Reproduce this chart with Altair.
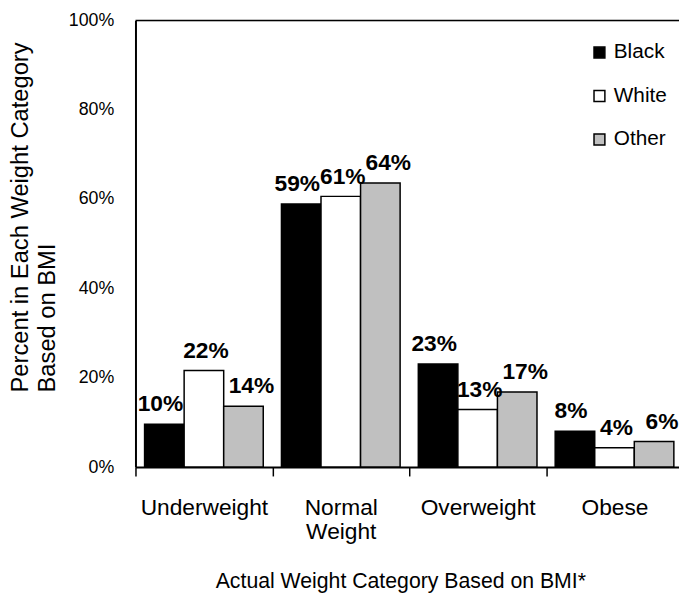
import altair as alt
import pandas as pd

categories = ["Underweight", "Normal Weight", "Overweight", "Obese"]
races = ["Black", "White", "Other"]
black_vals = [9.6, 58.9, 23.1, 8.0]
white_vals = [21.6, 60.6, 12.9, 4.3]
other_vals = [13.6, 63.6, 16.8, 5.7]
black_lbl = ["10%", "59%", "23%", "8%"]
white_lbl = ["22%", "61%", "13%", "4%"]
other_lbl = ["14%", "64%", "17%", "6%"]
colors = ["#000000", "#ffffff", "#c0c0c0"]
y_ticks = [0, 20, 40, 60, 80, 100]
label_shift = {"Black": -4, "White": 2, "Other": 8}

rows = []
for race, vals, lbls in zip(races, [black_vals, white_vals, other_vals], [black_lbl, white_lbl, other_lbl]):
    for c, v, l in zip(categories, vals, lbls):
        rows.append({"Category": c, "Race": race, "Value": v, "Label": l})
df = pd.DataFrame(rows)

FONT = "Liberation Sans"

x_enc = alt.X(
    "Category:N",
    sort=categories,
    scale=alt.Scale(range=[0, 554], paddingInner=0, paddingOuter=0),
    axis=alt.Axis(
        title="Actual Weight Category Based on BMI*",
        titleFont=FONT, titleFontSize=21.5, titleFontWeight="normal", titleColor="black",
        titleX=268, titleY=122, titleAlign="center", titleBaseline="alphabetic",
        labelFont=FONT, labelFontSize=23, labelColor="black", labelAngle=0,
        labelExpr="datum.label == 'Normal Weight' ? ['Normal', 'Weight'] : datum.label",
        labelLineHeight=24, labelBaseline="top", labelPadding=21,
        tickBand="extent", tickSize=9, tickColor="black", tickWidth=1.5,
        domainColor="black", domainWidth=2, grid=False,
    ),
)
xoff = alt.XOffset("Race:N", sort=races, scale=alt.Scale(domain=races, paddingInner=0, paddingOuter=0.23))
y_enc = alt.Y(
    "Value:Q",
    scale=alt.Scale(domain=[0, 100], nice=False),
    axis=alt.Axis(
        values=y_ticks, labelExpr="datum.value + '%'",
        labelFont=FONT, labelFontSize=18, labelColor="black", labelPadding=22,
        tickSize=0, domainColor="black", domainWidth=2, grid=False,
        title=["Percent in Each Weight Category", "Based on BMI"],
        titleFont=FONT, titleFontSize=24, titleFontWeight="normal", titleColor="black",
        titleAngle=-90, titleX=-109, titleY=376, titleAlign="left",
        titleBaseline="alphabetic", titleLineHeight=27,
    ),
)

bars = alt.Chart(df).mark_bar(stroke="black", strokeWidth=1.5).encode(
    x=x_enc,
    xOffset=xoff,
    y=y_enc,
    color=alt.Color(
        "Race:N",
        sort=races,
        scale=alt.Scale(domain=races, range=colors),
        legend=alt.Legend(
            title=None, orient="none", legendX=459, legendY=22, direction="vertical",
            symbolType="square", symbolSize=121, symbolStrokeColor="black",
            symbolStrokeWidth=1.5, symbolOpacity=1,
            labelFont=FONT, labelFontSize=21, labelColor="black", labelOffset=4,
            rowPadding=22, padding=0,
        ),
    ),
)

text_layers = []
for race in races:
    t = alt.Chart(df).transform_filter(alt.datum.Race == race).mark_text(
        font=FONT, fontSize=23, fontWeight="bold", color="black",
        baseline="alphabetic", dy=-13, dx=label_shift[race],
    ).encode(
        x=alt.X("Category:N", sort=categories),
        xOffset=alt.XOffset("Race:N", sort=races),
        y="Value:Q",
        text="Label:N",
    )
    text_layers.append(t)

top_df = pd.DataFrame({"top": [100]})
top_line = alt.Chart(top_df).mark_rule(color="black", strokeWidth=1.5).encode(
    y=alt.Y("top:Q"),
    x=alt.value(0),
    x2=alt.value(560),
)

chart = alt.layer(bars, *text_layers, top_line).properties(
    width=550,
    height=452,
    autosize="none",
    padding={"left": 129, "top": 9, "right": 0, "bottom": 133},
).configure_view(stroke=None).configure(font=FONT)

chart.save("out.html", embed_options={"renderer": "svg", "actions": False})
